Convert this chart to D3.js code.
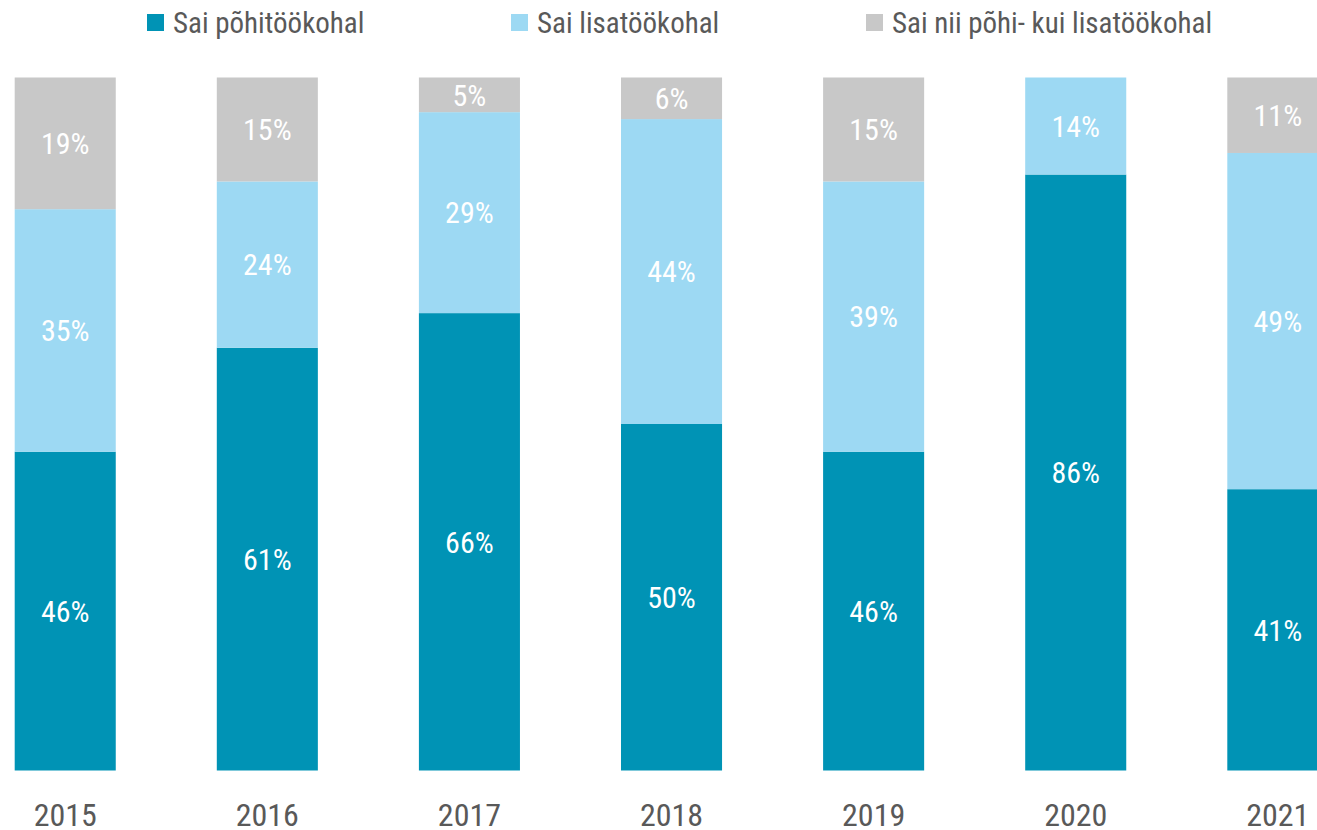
<!DOCTYPE html>
<html><head><meta charset="utf-8">
<script src="https://cdn.jsdelivr.net/npm/d3@7"></script>
<style>
body{margin:0;background:#fff;}
text{font-family:"Roboto Condensed","Liberation Sans Narrow",Roboto,sans-serif;}
</style></head>
<body><svg id="c" width="1317" height="830"></svg>
<script>
const years = ["2015","2016","2017","2018","2019","2020","2021"];
const seriesNames = ["Sai põhitöökohal","Sai lisatöökohal","Sai nii põhi- kui lisatöökohal"];
const mainJob = [46,61,66,50,46,86,41];
const extraJob = [35,24,29,44,39,14,49];
const bothJobs = [19,15,5,6,15,0,11];
const colors = ["#0093b5","#9dd9f3","#c8c8c8"];

const svg = d3.select("#c");
const rows = years.map((y,i)=>({year:y, a:mainJob[i], b:extraJob[i], c:bothJobs[i]}));
const stack = d3.stack().keys(["a","b","c"]).offset(d3.stackOffsetExpand)(rows);
const vals = {a:mainJob,b:extraJob,c:bothJobs};

const x = d3.scaleBand().domain(years).range([14.7, 14.7+6.5*202.1]).paddingInner(0.5).paddingOuter(0);
const y = d3.scaleLinear().domain([0,1]).range([770.5,77.5]);

const g = svg.append("g");
stack.forEach((layer,k)=>{
  const lg = g.append("g").attr("fill",colors[k]);
  layer.forEach((d,i)=>{
    const v = vals[layer.key][i];
    if(v<=0) return;
    lg.append("rect").attr("x",x(d.data.year)).attr("width",x.bandwidth())
      .attr("y",y(d[1])).attr("height",y(d[0])-y(d[1]));
    g.append("text").attr("x",x(d.data.year)+x.bandwidth()/2)
      .attr("y",(y(d[0])+y(d[1]))/2).attr("dy","0.36em")
      .attr("text-anchor","middle").attr("fill","#fff").attr("font-size",30)
      .text(v+"%");
  });
});

// x axis labels
const xa = svg.append("g").attr("transform","translate(0,792)")
  .call(d3.axisBottom(x).tickSize(0).tickPadding(11));
xa.select(".domain").remove();
xa.selectAll("text").attr("font-size",32).attr("fill","#595959")
  .attr("font-family",'"Roboto Condensed","Liberation Sans Narrow",Roboto,sans-serif');

// legend
const legX = [147,511,866];
const leg = svg.append("g");
seriesNames.forEach((n,i)=>{
  leg.append("rect").attr("x",legX[i]).attr("y",14).attr("width",17).attr("height",17).attr("fill",colors[i]);
  leg.append("text").attr("x",legX[i]+26).attr("y",23).attr("dy","0.36em")
    .attr("font-size",29).attr("fill","#595959").text(n);
});
</script></body></html>
